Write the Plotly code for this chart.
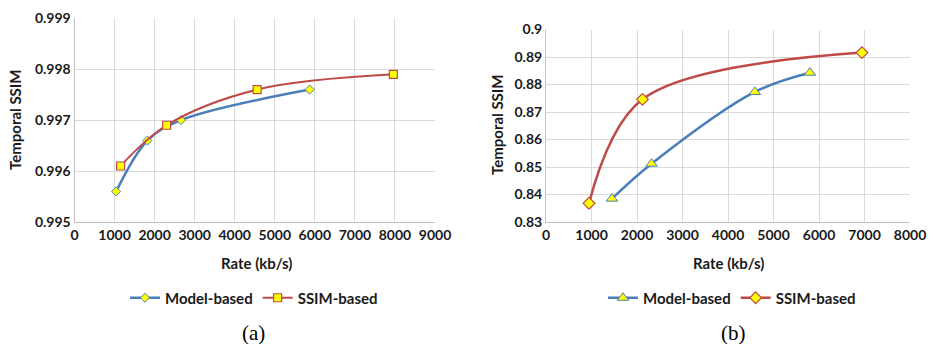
import plotly.graph_objects as go

# ---- data ----
a_model_x = [1040, 1820, 2660, 5870]
a_model_y = [0.9956, 0.9966, 0.9970, 0.9976]
a_ssim_x = [1150, 2300, 4560, 7960]
a_ssim_y = [0.9961, 0.9969, 0.9976, 0.9979]

b_model_x = [1450, 2320, 4590, 5800]
b_model_y = [0.8385, 0.8512, 0.8773, 0.8843]
b_ssim_x = [945, 2120, 6945]
b_ssim_y = [0.8368, 0.8746, 0.8916]

a_xticks = [0, 1000, 2000, 3000, 4000, 5000, 6000, 7000, 8000, 9000]
a_yticks = [0.995, 0.996, 0.997, 0.998, 0.999]
b_xticks = [0, 1000, 2000, 3000, 4000, 5000, 6000, 7000, 8000]
b_yticks = [0.83, 0.84, 0.85, 0.86, 0.87, 0.88, 0.89, 0.90]
b_ytext = ["0.83", "0.84", "0.85", "0.86", "0.87", "0.88", "0.89", "0.9"]

W, H = 934, 344
BLUE = "#4A7EBB"
RED = "#BE4B48"
YEL = "#FFFF00"
FONT = "Lato"
TXT = "#1a1a1a"

def px(x):
    return x / W

def py(y):
    return 1 - y / H

fig = go.Figure()

fig.add_trace(go.Scatter(x=a_model_x, y=a_model_y, name="Model-based", mode="lines+markers",
                         line=dict(color=BLUE, width=2.5, shape="spline", smoothing=1),
                         marker=dict(symbol="diamond", size=7, color=YEL, line=dict(color=BLUE, width=1)),
                         xaxis="x", yaxis="y", legend="legend"))
fig.add_trace(go.Scatter(x=a_ssim_x, y=a_ssim_y, name="SSIM-based", mode="lines+markers",
                         line=dict(color=RED, width=2, shape="spline", smoothing=1),
                         marker=dict(symbol="square", size=8, color=YEL, line=dict(color=RED, width=1.2)),
                         xaxis="x", yaxis="y", legend="legend"))
fig.add_trace(go.Scatter(x=b_model_x, y=b_model_y, name="Model-based", mode="lines+markers",
                         line=dict(color=BLUE, width=2.5, shape="spline", smoothing=1),
                         marker=dict(symbol="triangle-up", size=10, color=YEL, line=dict(color=BLUE, width=1)),
                         xaxis="x2", yaxis="y2", legend="legend2"))
fig.add_trace(go.Scatter(x=b_ssim_x, y=b_ssim_y, name="SSIM-based", mode="lines+markers",
                         line=dict(color=RED, width=2.5, shape="spline", smoothing=1),
                         marker=dict(symbol="diamond", size=9, color=YEL, line=dict(color=RED, width=1.2)),
                         xaxis="x2", yaxis="y2", legend="legend2"))

axcommon = dict(showgrid=True, gridcolor="#D9D9D9", gridwidth=1, zeroline=False, automargin=False,
                showline=True, linecolor="#BFBFBF", linewidth=1, ticks="",
                tickfont=dict(family=FONT, size=14, color=TXT, weight="bold"))

bold = dict(family=FONT, size=15, color=TXT, weight="bold")

fig.update_layout(
    width=W, height=H,
    margin=dict(l=0, r=0, t=0, b=0, pad=0),
    paper_bgcolor="white", plot_bgcolor="white",
    xaxis=dict(domain=[px(74.5), px(435)], range=[0, 9000], tickvals=a_xticks, anchor="y", **axcommon),
    yaxis=dict(domain=[py(222), py(18.3)], range=[0.995, 0.999], tickvals=a_yticks,
               tickformat=".3f", anchor="x", **axcommon),
    xaxis2=dict(domain=[px(546), px(910)], range=[0, 8000], tickvals=b_xticks, anchor="y2", **axcommon),
    yaxis2=dict(domain=[py(222), py(29.5)], range=[0.83, 0.90], tickvals=b_yticks, ticktext=b_ytext,
                anchor="x2", **axcommon),
    legend=dict(orientation="h", x=px(254), y=py(298), xanchor="center", yanchor="middle",
                font=bold, itemwidth=30, tracegroupgap=0,
                bgcolor="rgba(0,0,0,0)"),
    legend2=dict(orientation="h", x=px(732), y=py(298), xanchor="center", yanchor="middle",
                 font=bold, itemwidth=30, tracegroupgap=0,
                 bgcolor="rgba(0,0,0,0)"),
    annotations=[
        dict(text="Rate (kb/s)", x=px(256), y=py(263), xref="paper", yref="paper",
             xanchor="center", yanchor="middle", showarrow=False, font=bold),
        dict(text="Rate (kb/s)", x=px(728), y=py(263), xref="paper", yref="paper",
             xanchor="center", yanchor="middle", showarrow=False, font=bold),
        dict(text="Temporal SSIM", x=px(15), y=py(120), xref="paper", yref="paper",
             xanchor="center", yanchor="middle", showarrow=False, textangle=-90, font=bold),
        dict(text="Temporal SSIM", x=px(497), y=py(125), xref="paper", yref="paper",
             xanchor="center", yanchor="middle", showarrow=False, textangle=-90, font=bold),
        dict(text="(a)", x=px(253), y=py(333), xref="paper", yref="paper",
             xanchor="center", yanchor="middle",
             showarrow=False, font=dict(family="Liberation Serif", size=21, color="black")),
        dict(text="(b)", x=px(733), y=py(333), xref="paper", yref="paper",
             xanchor="center", yanchor="middle",
             showarrow=False, font=dict(family="Liberation Serif", size=21, color="black")),
    ],
)

fig.write_html("out.html")
